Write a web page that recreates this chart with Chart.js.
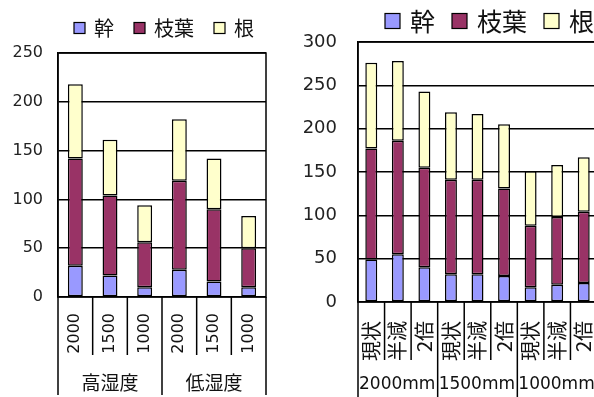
<!DOCTYPE html>
<html lang="ja">
<head>
<meta charset="UTF-8">
<title>幹・枝葉・根</title>
<script src="https://cdn.jsdelivr.net/npm/chart.js"></script>
<style>
  html, body { margin: 0; padding: 0; background: #fff; }
  body { width: 594px; height: 397px; overflow: hidden; position: relative; }
  #left { position: absolute; left: 0; top: 0; }
  #right { position: absolute; left: 290px; top: 0; }
</style>
</head>
<body>
<canvas id="left" width="290" height="397"></canvas>
<canvas id="right" width="420" height="397"></canvas>

<script>
// series names
const seriesNames = ['幹', '枝葉', '根'];
const seriesColors = ['#9999ff', '#993366', '#ffffcc'];

// left chart: humidity x rainfall
const leftCategories = ['2000', '1500', '1000', '2000', '1500', '1000'];
const leftGroups = ['高湿度', '低湿度'];
const leftStem = [32, 22, 10, 28, 16, 10];
const leftBranchLeaf = [110, 82, 46, 91, 74, 40];
const leftRoot = [76, 57, 38, 63, 52, 33];
const leftTicks = [0, 50, 100, 150, 200, 250];

// right chart: rainfall groups
const rightCategories = ['現状', '半減', '2倍', '現状', '半減', '2倍', '現状', '半減', '2倍'];
const rightGroups = ['2000mm', '1500mm', '1000mm'];
const rightStem = [49, 55, 40, 32, 32, 30, 17, 20, 22];
const rightBranchLeaf = [128, 131, 115, 109, 109, 101, 71, 78, 82];
const rightRoot = [99, 92, 88, 78, 76, 74, 63, 60, 63];
const rightTicks = [0, 50, 100, 150, 200, 250, 300];

// draws box, category dividers, rotated labels, group labels and the legend
const decor = {
  id: 'decor',
  afterDraw(chart, args, o) {
    const ctx = chart.ctx, a = chart.chartArea, xs = chart.scales.x;
    const n = chart.data.labels.length;
    ctx.save();
    ctx.strokeStyle = '#000';
    ctx.lineWidth = 1.5;
    ctx.strokeRect(a.left, a.top, a.right - a.left, a.bottom - a.top);

    for (let i = 0; i <= n; i++) {
      let x;
      if (i === 0) x = a.left;
      else if (i === n) x = a.right;
      else x = (xs.getPixelForValue(i - 1) + xs.getPixelForValue(i)) / 2;
      const isGroup = i % o.groupSize === 0;
      ctx.beginPath();
      ctx.moveTo(x, a.bottom);
      ctx.lineTo(x, isGroup ? o.groupLineEnd : o.tickLineEnd);
      ctx.stroke();
    }

    ctx.fillStyle = '#111';
    ctx.font = o.labelFont;
    ctx.textAlign = 'right';
    ctx.textBaseline = 'middle';
    chart.data.labels.forEach((lab, i) => {
      ctx.save();
      ctx.translate(xs.getPixelForValue(i), a.bottom + o.labelGap);
      ctx.rotate(-Math.PI / 2);
      ctx.fillText(lab, 0, 0);
      ctx.restore();
    });

    ctx.font = o.groupFont;
    ctx.textAlign = o.groupAlign;
    o.groups.forEach((g, k) => {
      const first = k * o.groupSize, last = first + o.groupSize - 1;
      const x0 = first === 0 ? a.left : (xs.getPixelForValue(first - 1) + xs.getPixelForValue(first)) / 2;
      const x1 = (last === n - 1) ? a.right : (xs.getPixelForValue(last) + xs.getPixelForValue(last + 1)) / 2;
      const x = o.groupAlign === 'center' ? (x0 + x1) / 2 : x0 + 1;
      ctx.fillText(g, x, o.groupY);
    });

    // legend
    const L = o.legend;
    let x = L.x;
    ctx.font = L.font;
    ctx.textAlign = 'left';
    ctx.lineWidth = 1.2;
    chart.data.datasets.forEach(ds => {
      ctx.fillStyle = ds.backgroundColor;
      ctx.fillRect(x, L.y - L.box / 2, L.box, L.box);
      ctx.strokeRect(x, L.y - L.box / 2, L.box, L.box);
      x += L.box + L.gapBox;
      ctx.fillStyle = '#111';
      ctx.fillText(ds.label, x, L.y);
      x += ctx.measureText(ds.label).width + L.gapItem;
    });
    ctx.restore();
  }
};

function makeChart(id, labels, stem, branch, root, ticks, cfg) {
  const sets = [stem, branch, root].map((d, i) => ({
    label: seriesNames[i],
    data: d,
    backgroundColor: seriesColors[i],
    borderColor: '#000',
    borderWidth: 1.5,
    borderSkipped: false,
    barPercentage: cfg.barPct,
    categoryPercentage: 1
  }));
  return new Chart(document.getElementById(id), {
    type: 'bar',
    data: { labels: labels, datasets: sets },
    options: {
      responsive: false,
      animation: false,
      layout: { padding: cfg.padding },
      plugins: { legend: { display: false }, tooltip: { enabled: false }, decor: cfg.decor },
      scales: {
        x: {
          stacked: true,
          grid: { display: false },
          border: { display: false },
          ticks: { display: false },
          afterFit: s => { s.height = cfg.xHeight; }
        },
        y: {
          stacked: true,
          min: ticks[0],
          max: ticks[ticks.length - 1],
          afterBuildTicks: s => { s.ticks = ticks.map(v => ({ value: v })); },
          grid: { color: '#000', lineWidth: 1.5, drawTicks: false },
          border: { color: '#000', width: 1.5 },
          ticks: { font: cfg.tickFont, color: '#222', padding: cfg.tickPad },
          afterFit: s => { s.width = cfg.yWidth; }
        }
      }
    },
    plugins: [decor]
  });
}

makeChart('left', leftCategories, leftStem, leftBranchLeaf, leftRoot, leftTicks, {
  barPct: 0.43,
  padding: { left: 0, right: 24, top: 53, bottom: 0 },
  xHeight: 100,
  yWidth: 58,
  tickPad: 15,
  tickFont: { family: 'DejaVu Sans', size: 16 },
  decor: {
    groupSize: 3, groups: leftGroups,
    tickLineEnd: 355, groupLineEnd: 395,
    labelFont: '16px "DejaVu Sans"', labelGap: 16,
    groupFont: '19px "Noto Sans CJK JP"', groupAlign: 'center', groupY: 383,
    legend: { x: 74, y: 28, box: 11, gapBox: 9, gapItem: 20, font: '20px "Noto Sans CJK JP"' }
  }
});

makeChart('right', rightCategories, rightStem, rightBranchLeaf, rightRoot, rightTicks, {
  barPct: 0.45,
  padding: { left: 0, right: 113, top: 42, bottom: 0 },
  xHeight: 95,
  yWidth: 68,
  tickPad: 21,
  tickFont: { family: 'DejaVu Sans', size: 18 },
  decor: {
    groupSize: 3, groups: rightGroups,
    tickLineEnd: 360, groupLineEnd: 397,
    labelFont: '20px "Noto Sans CJK JP"', labelGap: 19,
    groupFont: '17px "DejaVu Sans"', groupAlign: 'left', groupY: 385,
    legend: { x: 95, y: 21, box: 15, gapBox: 10, gapItem: 17, font: '25px "Noto Sans CJK JP"' }
  }
});
</script>
</body>
</html>
